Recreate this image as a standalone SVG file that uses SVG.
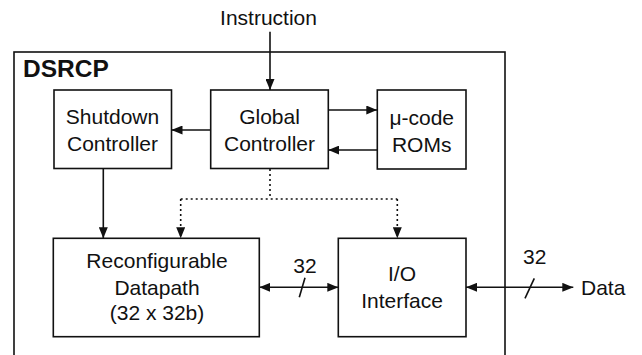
<svg xmlns="http://www.w3.org/2000/svg" width="642" height="355" viewBox="0 0 642 355">
<style>
text{font-family:"Liberation Sans",Arial,sans-serif;font-size:21px;fill:#111;text-anchor:middle}
.box{fill:#fff;stroke:#111;stroke-width:1.6}
.ln{stroke:#111;stroke-width:1.6;fill:none}
.dot{stroke:#111;stroke-width:1.6;fill:none;stroke-dasharray:2 3}
</style>
<defs>
<marker id="ah" markerWidth="11" markerHeight="9" refX="11" refY="4.5" orient="auto-start-reverse" markerUnits="userSpaceOnUse">
<path d="M0,0 L11,4.5 L0,9 Z" fill="#111"/>
</marker>
</defs>
<rect width="642" height="355" fill="#fff"/>
<g id="dsrcp">
<rect class="box" x="14" y="52" width="491" height="320"/>
<text x="23" y="77" style="font-weight:bold;font-size:24.5px;text-anchor:start">DSRCP</text>
</g>
<g id="instruction"><text x="268.5" y="25">Instruction</text></g>
<g id="shutdown">
<rect class="box" x="54" y="90" width="117.5" height="78.5"/>
<text x="112.5" y="124">Shutdown</text>
<text x="112.5" y="150.5">Controller</text>
</g>
<g id="global">
<rect class="box" x="210.7" y="90" width="117.6" height="78.5"/>
<text x="269.5" y="124">Global</text>
<text x="269.5" y="150.5">Controller</text>
</g>
<g id="ucode">
<rect class="box" x="377.3" y="90" width="88.7" height="79"/>
<text x="421.7" y="125">μ-code</text>
<text x="421.7" y="151.5">ROMs</text>
</g>
<g id="datapath">
<rect class="box" x="53.3" y="238.3" width="206" height="98.4"/>
<text x="157" y="268.3">Reconfigurable</text>
<text x="157" y="295">Datapath</text>
<text x="157" y="319.5">(32 x 32b)</text>
</g>
<g id="io">
<rect class="box" x="338.3" y="238.3" width="127.7" height="98.4"/>
<text x="402" y="281">I/O</text>
<text x="402" y="308.3">Interface</text>
</g>
<g id="data"><text x="581" y="295" style="text-anchor:start">Data</text></g>
<g id="connectors">
<line class="ln" x1="270" y1="31.7" x2="270" y2="90" marker-end="url(#ah)"/>
<line class="ln" x1="210.7" y1="130" x2="171.5" y2="130" marker-end="url(#ah)"/>
<line class="ln" x1="328.3" y1="110" x2="377.3" y2="110" marker-end="url(#ah)"/>
<line class="ln" x1="377.3" y1="150" x2="328.3" y2="150" marker-end="url(#ah)"/>
<line class="ln" x1="103.3" y1="168.5" x2="103.3" y2="238.3" marker-end="url(#ah)"/>
<path class="dot" d="M270,169 V199 M180.7,199 H397.3"/>
<line class="dot" x1="180.7" y1="199" x2="180.7" y2="238.3" marker-end="url(#ah)"/>
<line class="dot" x1="397.3" y1="199" x2="397.3" y2="238.3" marker-end="url(#ah)"/>
<line class="ln" x1="259.3" y1="287.3" x2="338.3" y2="287.3" marker-start="url(#ah)" marker-end="url(#ah)"/>
<line class="ln" x1="305" y1="277.7" x2="299.3" y2="297.3"/>
<text x="305" y="273.3">32</text>
<line class="ln" x1="466" y1="287.3" x2="573.3" y2="287.3" marker-start="url(#ah)" marker-end="url(#ah)"/>
<line class="ln" x1="534.3" y1="278.3" x2="525" y2="298.3"/>
<text x="534.8" y="264">32</text>
</g>
</svg>
